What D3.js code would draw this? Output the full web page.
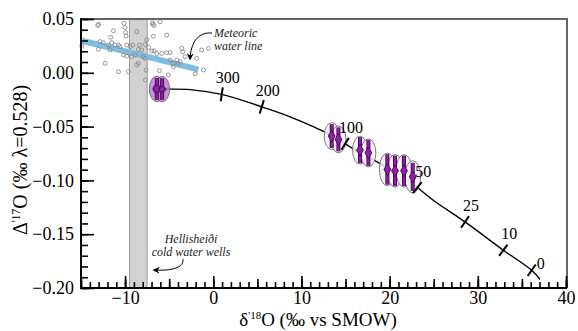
<!DOCTYPE html>
<html><head><meta charset="utf-8">
<script src="https://cdn.jsdelivr.net/npm/d3@7"></script>
<style>
body{margin:0;background:#fff;}
svg{display:block;}
</style></head>
<body><svg id="c" width="578" height="331"></svg>
<script>
// ---- data ----
const xTicksLabeled = [-10, 0, 10, 20, 30, 40];
const yTicksLabeled = [0.05, 0.00, -0.05, -0.10, -0.15, -0.20];
// meteoric water samples (scatter)
const mwX = [-13.10,-10.11,-10.0,-6.90,-6.71,-6.03,-11.32,-9.93,-9.89,-8.68,-6.79,-5.28,-11.63,-12.83,-12.46,-11.51,-11.13,-10.75,-10.57,-11.89,-13.02,-11.70,-9.81,-9.43,-9.13,-8.49,-8.37,-8.11,-7.54,-7.73,-7.35,-6.98,-6.71,-6.41,-5.85,-5.28,-4.90,-4.52,-3.58,-3.46,-3.20,-3.76,-4.90,-4.14,-3.95,-1.87,-1.31,-0.55,-12.27,-10.75,-9.62,-8.68,-8.49,-7.92,-7.73,-7.62,-7.69,-6.11,-5.09,-2.06,-4.52,-14.91,-10.19,-9.81,-9.24,-8.87,-1.12,-6.86,-13.0];
const mwY = [0.044,0.046,0.042,0.0466,0.044,0.0475,0.039,0.0373,0.0342,0.0382,0.034,0.035,0.033,0.029,0.028,0.028,0.0258,0.0258,0.0243,0.0258,0.0218,0.0212,0.0258,0.0243,0.0258,0.0218,0.0258,0.0212,0.0305,0.0264,0.0236,0.0202,0.0205,0.018,0.018,0.0187,0.0187,0.0088,0.0227,0.0196,0.015,0.0103,0.0119,0.0119,0.0088,0.0134,0.0212,0.0227,0.0088,0.001,0.001,0.0072,0.0088,0.015,0.0134,0.0026,-0.0067,0.002,-0.002,-0.001,0.0057,0.0249,0.0165,0.0156,0.015,0.0165,0.0026,0.045,0.045];
// meteoric water line
const mwlX = [-15, -8, -1.7];
const mwlY = [0.030, 0.016, 0.003];
// cold water wells range (delta18O)
const wellsRange = [-9.5, -7.5];
// mixing curve
const mixX = [-6.37,-5.66,-2.63,0.96,5.50,8.71,13.24,16.64,19.29,22.31,24.95,28.55,32.89,36.11,37.05];
const mixY = [-0.0151,-0.0152,-0.0156,-0.0200,-0.0316,-0.0409,-0.0575,-0.0745,-0.0860,-0.1013,-0.1184,-0.1386,-0.1649,-0.1835,-0.1921];
const mixTickLabels = ["300","200","100","50","25","10","0"];
const mixTickX = [0.96, 5.50, 14.95, 23.14, 28.55, 32.89, 36.11];
// samples
const sampX  = [-6.40,-5.80,13.43,14.19,16.64,17.59,19.74,20.61,21.63,22.62];
const sampY  = [-0.0150,-0.0152,-0.0588,-0.0619,-0.0719,-0.0744,-0.0898,-0.0911,-0.0911,-0.0967];
const sampEx = [0.45,0.45,0.35,0.35,0.35,0.35,0.35,0.35,0.35,0.35];
const sampEy = [0.010,0.010,0.011,0.011,0.012,0.012,0.014,0.014,0.014,0.013];
const sampRx = [0.85,0.85,0.85,0.85,0.85,0.85,0.90,0.90,0.90,0.90];
const sampRy = [0.0118,0.0118,0.0125,0.0125,0.013,0.013,0.0152,0.0152,0.0152,0.0150];
const sampShape = ["circle","circle","diamond","diamond","diamond","diamond","diamond","diamond","diamond","diamond"];
const sampGroup = ["start","start","mix","mix","mix","mix","mix","mix","mix","mix"];

// ---- chart ----
const FONT = "'Liberation Serif','Times New Roman','DejaVu Serif',serif";
const svg = d3.select("#c");
const x = d3.scaleLinear().domain([-15, 40]).range([81, 566]);
const y = d3.scaleLinear().domain([-0.2, 0.05]).range([288, 19]);
const X0 = 81, X1 = 567, Y0 = 19, Y1 = 288;

// wells band
svg.append("rect").attr("x", x(wellsRange[0])).attr("y", Y0)
  .attr("width", x(wellsRange[1]) - x(wellsRange[0])).attr("height", Y1 - Y0)
  .attr("fill", "#d2d2d2").attr("stroke", "#9a9a9a").attr("stroke-width", 1);

// meteoric water line
svg.append("path").datum(d3.range(mwlX.length))
  .attr("d", d3.line().x(i => x(mwlX[i])).y(i => y(mwlY[i])).curve(d3.curveMonotoneX))
  .attr("fill", "none").attr("stroke", "#7fbde1").attr("stroke-width", 6);

// scatter
svg.append("g").selectAll("circle").data(d3.range(mwX.length)).join("circle")
  .attr("cx", i => x(mwX[i])).attr("cy", i => y(mwY[i])).attr("r", 2)
  .attr("fill", "none").attr("stroke", "#8c8c8c").attr("stroke-width", 0.9);

// mixing curve
const mixPts = d3.range(mixX.length).map(i => [x(mixX[i]), y(mixY[i])]);
svg.append("path").datum(mixPts)
  .attr("d", d3.line().curve(d3.curveCatmullRom))
  .attr("fill", "none").attr("stroke", "#000").attr("stroke-width", 1.4);

function curveAt(v) {
  let i = 0;
  while (i < mixX.length - 2 && mixX[i + 1] < v) i++;
  const t = (v - mixX[i]) / (mixX[i + 1] - mixX[i]);
  const px = x(v), py = y(mixY[i] + t * (mixY[i + 1] - mixY[i]));
  const dx = x(mixX[i + 1]) - x(mixX[i]), dy = y(mixY[i + 1]) - y(mixY[i]);
  const L = Math.hypot(dx, dy);
  return {px, py, nx: -dy / L, ny: dx / L};
}
const tg = svg.append("g");
const tickPos = mixTickX.map(curveAt);
tickPos.forEach(c => {
  tg.append("line")
    .attr("x1", c.px - c.nx * 7).attr("y1", c.py - c.ny * 7)
    .attr("x2", c.px + c.nx * 7).attr("y2", c.py + c.ny * 7)
    .attr("stroke", "#000").attr("stroke-width", 2);
});

// samples
const sg = svg.append("g");
const idx = d3.range(sampX.length);
sg.selectAll("ellipse").data(idx).join("ellipse")
  .attr("cx", i => x(sampX[i])).attr("cy", i => y(sampY[i]))
  .attr("rx", i => x(sampRx[i]) - x(0)).attr("ry", i => y(0) - y(sampRy[i]))
  .attr("fill", i => sampGroup[i] === "start" ? "#b27ccb" : "#f4eef7")
  .attr("fill-opacity", i => sampGroup[i] === "start" ? 0.8 : 0.85)
  .attr("stroke", "#6f6f6f").attr("stroke-width", 0.9);
idx.forEach(i => {
  const cx = x(sampX[i]), cy = y(sampY[i]);
  const y1 = y(sampY[i] + sampEy[i]), y2 = y(sampY[i] - sampEy[i]);
  const x1 = x(sampX[i] - sampEx[i]), x2 = x(sampX[i] + sampEx[i]);
  [["#3e0a4a", 4], ["#8a1fa0", 2.4]].forEach(([col, w]) => {
    sg.append("line").attr("x1", cx).attr("x2", cx).attr("y1", y1).attr("y2", y2)
      .attr("stroke", col).attr("stroke-width", w);
    sg.append("line").attr("x1", x1).attr("x2", x2).attr("y1", cy).attr("y2", cy)
      .attr("stroke", col).attr("stroke-width", w * 0.7);
  });
  const sym = sampShape[i] === "circle" ? d3.symbolCircle : d3.symbolDiamond;
  sg.append("path").attr("transform", `translate(${cx},${cy})`)
    .attr("d", d3.symbol(sym, sampShape[i] === "circle" ? (i === 0 ? 45 : 25) : 40)())
    .attr("fill", "#8e22a6").attr("stroke", "#3e0a4a").attr("stroke-width", 0.8);
});

// curve tick labels (on top)
tickPos.forEach((c, k) => {
  const last = k === tickPos.length - 1;
  tg.raise();
  svg.append("text").attr("x", c.px + (last ? 9 : 6)).attr("y", c.py + (last ? -1 : -11))
    .attr("text-anchor", "middle").attr("font-size", 16).text(mixTickLabels[k]);
});

// frame top/right
svg.append("path").attr("d", `M${X0},${Y0}H${X1}V${Y1}`)
  .attr("fill", "none").attr("stroke", "#666").attr("stroke-width", 2);

// axes
function styleAxis(g) { g.attr("font-family", null); g.select(".domain").remove(); g.selectAll("line").attr("stroke", "#000").attr("stroke-width", 1.6); }
const xb = svg.append("g").attr("transform", `translate(0,${Y1})`);
xb.append("g").call(d3.axisBottom(x).tickValues(d3.range(-15, 41, 1)).tickSize(-6).tickFormat("")).call(styleAxis);
xb.append("g").call(d3.axisBottom(x).tickValues(d3.range(-15, 41, 5)).tickSize(-9).tickFormat("")).call(styleAxis);
xb.append("g").call(d3.axisBottom(x).tickValues(xTicksLabeled).tickSize(-12).tickPadding(3).tickFormat(d3.format("d")))
  .call(styleAxis).call(g => g.selectAll("text").attr("font-size", 18).attr("fill", "#000").attr("dy", "0.71em"));
xb.append("line").attr("x1", X0).attr("x2", X1).attr("stroke", "#000").attr("stroke-width", 2);

const yl = svg.append("g").attr("transform", `translate(${X0},0)`);
yl.append("g").call(d3.axisLeft(y).tickValues(d3.range(0, 26).map(k => -0.2 + k * 0.01)).tickSize(-7).tickFormat("")).call(styleAxis);
yl.append("g").call(d3.axisLeft(y).tickValues(yTicksLabeled).tickSize(-13).tickPadding(7).tickFormat(d3.format(".2f")))
  .call(styleAxis).call(g => g.selectAll("text").attr("font-size", 18).attr("fill", "#000"));
yl.append("line").attr("y1", Y0 - 1).attr("y2", Y1 + 1).attr("stroke", "#000").attr("stroke-width", 2);

// axis titles
const xt = svg.append("text").attr("x", 318).attr("y", 326).attr("text-anchor", "middle").attr("font-size", 19);
xt.append("tspan").text("δ");
xt.append("tspan").attr("font-size", 11).attr("dy", -7).text("'18");
xt.append("tspan").attr("dy", 7).text("O (‰ vs SMOW)");
const ytt = svg.append("text").attr("transform", "translate(27,160) rotate(-90)").attr("text-anchor", "middle").attr("font-size", 20);
ytt.append("tspan").text("Δ");
ytt.append("tspan").attr("font-size", 11.5).attr("dy", -7).text("'17");
ytt.append("tspan").attr("dy", 7).text("O (‰ λ=0.528)");

// annotations
svg.append("defs").append("marker").attr("id", "ah").attr("viewBox", "0 0 10 10")
  .attr("refX", 8).attr("refY", 5).attr("markerWidth", 7).attr("markerHeight", 7)
  .attr("orient", "auto-start-reverse").append("path").attr("d", "M0,0L10,5L0,10L3,5Z").attr("fill", "#000");
const ann = svg.append("g").attr("font-style", "italic").attr("font-size", 12).attr("fill", "#222");
ann.append("text").attr("x", 214).attr("y", 37).text("Meteoric");
ann.append("text").attr("x", 214).attr("y", 50).text("water line");
svg.append("path").attr("d", "M212,33 C198,32 191,42 190,59").attr("fill", "none")
  .attr("stroke", "#000").attr("stroke-width", 1).attr("marker-end", "url(#ah)");
ann.append("text").attr("x", 191).attr("y", 243).attr("text-anchor", "middle").text("Hellisheiði");
ann.append("text").attr("x", 191).attr("y", 256).attr("text-anchor", "middle").text("cold water wells");
svg.append("path").attr("d", "M183,259 C184,268 171,271 154,270").attr("fill", "none")
  .attr("stroke", "#000").attr("stroke-width", 1).attr("marker-end", "url(#ah)");

svg.selectAll("text").style("font-family", FONT);
</script></body></html>
